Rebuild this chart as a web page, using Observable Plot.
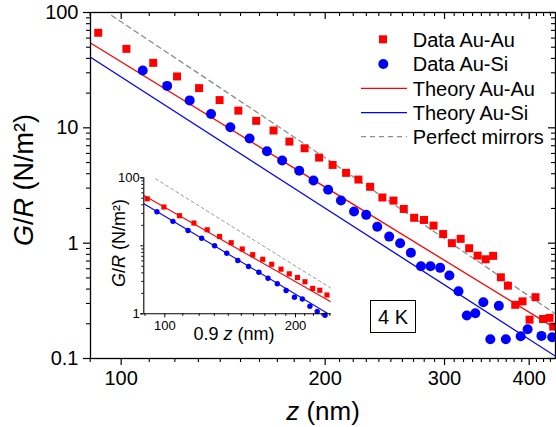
<!DOCTYPE html>
<html><head><meta charset="utf-8">
<script src="https://cdn.jsdelivr.net/npm/d3@7"></script>
<script src="https://cdn.jsdelivr.net/npm/@observablehq/plot@0.6"></script>
<style>
html,body{margin:0;padding:0;background:#fff;}
#wrap{position:relative;width:556px;height:427px;overflow:hidden;font-family:Arial,"Liberation Sans",sans-serif;}
#wrap > svg{position:absolute;}
</style></head><body><div id="wrap"></div>
<script>
// ---- Main panel data (z in nm, G/R in N/m^2) ----
const auAuZ = [92.5,101.8,111.5,120.9,130.3,139.7,148.9,158.2,167.8,177.1,186.5,195.9,205.1,214.7,223.9,233.0,242.9,252.2,261.2,270.6,279.8,289.0,298.6,307.6,316.9,326.2,335.7,345.0,353.9,363.3,372.1,381.5,391.1,400.5,408.7,419.3,428.7,434.0];
const auAuG = [66.7,48.4,36.6,27.9,22.1,17.4,14.1,11.5,9.48,7.6,6.65,5.52,4.77,4.07,3.56,3.08,2.49,2.34,1.98,1.66,1.59,1.42,1.20,1.00,1.09,0.904,0.78,0.725,0.776,0.506,0.428,0.292,0.313,0.217,0.34,0.22,0.225,0.189];
const auSiZ = [107.6,116.9,126.2,135.7,144.9,154.7,164.1,172.8,183.1,192.2,202.0,211.0,220.6,229.9,238.7,248.6,258.0,267.6,276.9,286.0,295.6,305.0,314.6,323.6,333.1,342.3,350.5,360.8,369.5,388.6,397.9,417.0,432.5];
const auSiG = [31.4,23.1,17.3,13.2,10.1,8.07,6.26,5.2,4.24,3.49,2.9,2.34,1.88,1.76,1.39,1.14,1.0,0.825,0.631,0.631,0.611,0.524,0.383,0.236,0.247,0.307,0.147,0.286,0.147,0.156,0.179,0.157,0.153];
const theoryAuAuZ = [90.1,200,437];
const theoryAuAuG = [54.4,3.06,0.183];
const theoryAuSiZ = [90.1,200,437];
const theoryAuSiG = [40.9,2.01,0.105];
const mirrorsZ = [96.8,200,437];
const mirrorsG = [94.2,5.5,0.244];
const xMajor = [100,200,300,400];
const xMinor = [90,110,120,130,140,150,160,170,180,190,210,220,230,240,250,260,270,280,290,310,320,330,340,350,360,370,380,390,410,420,430];
const yMajor = [0.1,1,10,100];
const yMinor = [0.2,0.3,0.4,0.5,0.6,0.7,0.8,0.9,2,3,4,5,6,7,8,9,20,30,40,50,60,70,80,90];

// ---- Inset data (x = 0.9 z in nm) ----
const inAuAuZ = [91.1,99.5,108.1,116.7,125.2,133.7,142.2,150.8,159.4,168.1,176.3,185.2,193.5,202.1,210.3,219.1,227.5,236.3];
const inAuAuG = [49.1,37.2,27.7,21.6,17.2,13.7,11.1,8.97,7.40,6.33,5.35,4.53,3.87,3.42,2.96,2.36,2.22,1.89];
const inAuSiZ = [95.9,104.4,113.1,121.6,130.2,138.9,147.3,155.9,164.7,172.9,181.6,190.3,198.9,207.4,215.9,224.4,233.9];
const inAuSiG = [31.7,22.9,16.8,12.9,10.0,7.79,6.08,4.97,4.08,3.34,2.76,2.20,1.75,1.65,1.29,1.08,0.95];
const inTheoryAuAuZ = [89.5,241.7];
const inTheoryAuAuG = [54.9,1.49];
const inTheoryAuSiZ = [89.5,241.7];
const inTheoryAuSiG = [41.5,0.944];
const inMirrorsZ = [95.2,241.7];
const inMirrorsG = [96.7,2.37];
const inXMajor = [100,200];
const inXMinor = [90,110,120,130,140,150,160,170,180,190,210,220,230,240];
const inYLabeled = [1,100];
const inYMajor = [1,10,100];
const inYMinor = [2,3,4,5,6,7,8,9,20,30,40,50,60,70,80,90];

const legendItems = ["Data Au-Au","Data Au-Si","Theory Au-Au","Theory Au-Si","Perfect mirrors"];
const RED = "#ff0000", BLUE = "#0000ff", GRAY = "#8c8c8c";
const FONT = "Arial, 'Liberation Sans', sans-serif";
const blank = () => "";

const wrap = document.getElementById("wrap");

const main = Plot.plot({
  width: 556, height: 427,
  marginLeft: 90, marginRight: 1, marginTop: 12, marginBottom: 69,
  style: {fontFamily: FONT, background: "transparent", color: "black", overflow: "visible"},
  x: {type: "log", domain: [90.1, 437.4]},
  y: {type: "log", domain: [0.1, 100]},
  marks: [
    Plot.line(mirrorsG, {x: mirrorsZ, y: mirrorsG, stroke: GRAY, strokeWidth: 1.3, strokeDasharray: "5,4", clip: true}),
    Plot.line(theoryAuAuG, {x: theoryAuAuZ, y: theoryAuAuG, stroke: RED, strokeWidth: 1.3, clip: true}),
    Plot.line(theoryAuSiG, {x: theoryAuSiZ, y: theoryAuSiG, stroke: BLUE, strokeWidth: 1.3, clip: true}),
    Plot.dot(auAuG, {x: auAuZ, y: auAuG, symbol: "square", r: 4.5, fill: RED, stroke: "none", clip: true}),
    Plot.dot(auSiG, {x: auSiZ, y: auSiG, symbol: "circle", r: 5, fill: BLUE, stroke: "none", clip: true}),
    Plot.frame({stroke: "black", strokeWidth: 1.3}),
    Plot.axisX(xMajor, {anchor: "bottom", tickSize: 7, tickPadding: 5, fontSize: 20, tickFormat: d => String(d), label: null, strokeWidth: 1.2}),
    Plot.axisX(xMinor, {anchor: "bottom", tickSize: 4, tickFormat: blank, label: null, strokeWidth: 1.1}),
    Plot.axisX(xMajor, {anchor: "bottom", frameAnchor: "top", tickSize: 7, tickFormat: blank, label: null, strokeWidth: 1.2}),
    Plot.axisX(xMinor, {anchor: "bottom", frameAnchor: "top", tickSize: 4, tickFormat: blank, label: null, strokeWidth: 1.1}),
    Plot.axisY(yMajor, {anchor: "left", tickSize: 7, tickPadding: 5, fontSize: 20, tickFormat: d => String(d), label: null, strokeWidth: 1.2}),
    Plot.axisY(yMinor, {anchor: "left", tickSize: 4, tickFormat: blank, label: null, strokeWidth: 1.1}),
    Plot.axisY(yMajor, {anchor: "left", frameAnchor: "right", tickSize: 7, tickFormat: blank, label: null, strokeWidth: 1.2}),
    Plot.axisY(yMinor, {anchor: "left", frameAnchor: "right", tickSize: 4, tickFormat: blank, label: null, strokeWidth: 1.1})
  ]
});
main.style.left = "0px"; main.style.top = "0px";
wrap.appendChild(main);

// Axis titles for main panel
const ms = d3.select(main);
const xt = ms.append("text").attr("x", 323).attr("y", 420).attr("text-anchor", "middle")
  .attr("font-size", 26).attr("font-family", FONT).attr("fill", "black");
xt.append("tspan").attr("font-style", "italic").text("z");
xt.append("tspan").text(" (nm)");
const yt = ms.append("text").attr("transform", "translate(33,180) rotate(-90)").attr("text-anchor", "middle")
  .attr("font-size", 27).attr("font-family", FONT).attr("fill", "black");
yt.append("tspan").attr("font-style", "italic").text("G");
yt.append("tspan").text("/");
yt.append("tspan").attr("font-style", "italic").text("R");
yt.append("tspan").text(" (N/m²)");

// Inset panel
const inset = Plot.plot({
  width: 240, height: 190,
  marginLeft: 43.3, marginRight: 9.3, marginTop: 12.3, marginBottom: 41.7,
  style: {fontFamily: FONT, background: "transparent", color: "black", overflow: "visible"},
  x: {type: "log", domain: [89.45, 241.7]},
  y: {type: "log", domain: [1, 100]},
  marks: [
    Plot.line(inMirrorsG, {x: inMirrorsZ, y: inMirrorsG, stroke: "#9a9a9a", strokeWidth: 1, strokeDasharray: "3,3", clip: true}),
    Plot.line(inTheoryAuAuG, {x: inTheoryAuAuZ, y: inTheoryAuAuG, stroke: RED, strokeWidth: 1.1, clip: true}),
    Plot.line(inTheoryAuSiG, {x: inTheoryAuSiZ, y: inTheoryAuSiG, stroke: BLUE, strokeWidth: 1.1, clip: true}),
    Plot.dot(inAuAuG, {x: inAuAuZ, y: inAuAuG, symbol: "square", r: 2.9, fill: RED, stroke: "none"}),
    Plot.dot(inAuSiG, {x: inAuSiZ, y: inAuSiG, symbol: "circle", r: 2.7, fill: BLUE, stroke: "none"}),
    Plot.ruleY([1], {stroke: "black", strokeWidth: 1.1}),
    Plot.ruleX([89.45], {stroke: "black", strokeWidth: 1.1}),
    Plot.axisX(inXMajor, {anchor: "bottom", tickSize: 4, tickPadding: 3, fontSize: 13, tickFormat: d => String(d), label: null}),
    Plot.axisX(inXMinor, {anchor: "bottom", tickSize: 2.5, tickFormat: blank, label: null}),
    Plot.axisY(inYLabeled, {anchor: "left", tickSize: 3, tickPadding: 1, fontSize: 13, tickFormat: d => String(d), label: null}),
    Plot.axisY(inYMajor, {anchor: "left", tickSize: 3, tickFormat: blank, label: null}),
    Plot.axisY(inYMinor, {anchor: "left", tickSize: 2, tickFormat: blank, label: null})
  ]
});
inset.style.left = "100px"; inset.style.top = "165px";
wrap.appendChild(inset);
const is = d3.select(inset);
const ixt = is.append("text").attr("x", 134).attr("y", 175).attr("text-anchor", "middle")
  .attr("font-size", 18).attr("font-family", FONT).attr("fill", "black");
ixt.append("tspan").text("0.9 ");
ixt.append("tspan").attr("font-style", "italic").text("z");
ixt.append("tspan").text(" (nm)");
const iyt = is.append("text").attr("transform", "translate(25,78) rotate(-90)").attr("text-anchor", "middle")
  .attr("font-size", 18).attr("font-family", FONT).attr("fill", "black");
iyt.append("tspan").attr("font-style", "italic").text("G");
iyt.append("tspan").text("/");
iyt.append("tspan").attr("font-style", "italic").text("R");
iyt.append("tspan").text(" (N/m²)");

// Legend and annotation overlay
const ov = d3.select(wrap).append("svg").attr("width", 556).attr("height", 427)
  .style("left", "0px").style("top", "0px").style("position", "absolute");
const rowY = [39.3, 64, 88.3, 112.7, 136.7];
legendItems.forEach((t, i) => {
  const cy = rowY[i];
  if (i === 0) ov.append("rect").attr("x", 379).attr("y", cy - 4).attr("width", 8).attr("height", 8).attr("fill", RED);
  if (i === 1) ov.append("circle").attr("cx", 383.3).attr("cy", cy).attr("r", 5).attr("fill", BLUE);
  if (i === 2) ov.append("line").attr("x1", 361).attr("x2", 407).attr("y1", cy).attr("y2", cy).attr("stroke", RED).attr("stroke-width", 1.3);
  if (i === 3) ov.append("line").attr("x1", 361).attr("x2", 407).attr("y1", cy).attr("y2", cy).attr("stroke", BLUE).attr("stroke-width", 1.3);
  if (i === 4) ov.append("line").attr("x1", 361).attr("x2", 407).attr("y1", cy).attr("y2", cy).attr("stroke", GRAY).attr("stroke-width", 1.3).attr("stroke-dasharray", "5,4");
  ov.append("text").attr("x", 412.7).attr("y", cy + 7.2).attr("font-size", 20).attr("font-family", FONT).attr("fill", "black").text(t);
});
ov.append("rect").attr("x", 370.5).attr("y", 300.5).attr("width", 45).attr("height", 32).attr("fill", "white").attr("stroke", "black").attr("stroke-width", 1);
ov.append("text").attr("x", 393).attr("y", 323.5).attr("text-anchor", "middle").attr("font-size", 20).attr("font-family", FONT).attr("fill", "black").text("4 K");
</script></body></html>
